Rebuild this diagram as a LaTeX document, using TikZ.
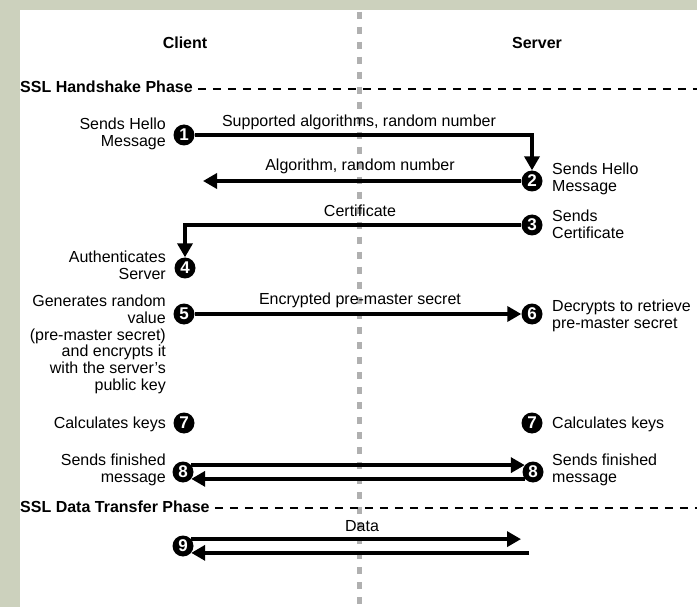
\documentclass[tikz,border=0pt]{standalone}
\usepackage{fontspec}
\setmainfont{Liberation Sans}
\usetikzlibrary{arrows.meta}
\definecolor{framecol}{RGB}{204,209,189}
\definecolor{dividercol}{RGB}{176,176,176}
\begin{document}
\begin{tikzpicture}[x=1pt,y=-1pt,
  every node/.style={inner sep=0pt, font=\fontsize{16}{16.7}\selectfont},
  num/.style={circle, fill=black, minimum size=21pt, text=white,
    font=\fontsize{17}{17}\selectfont\bfseries},
  msg/.style={line width=3.6pt, -{Triangle[length=14pt,width=15pt]}},
  phase/.style={line width=1.4pt, dash pattern=on 8pt off 7pt},
  head/.style={font=\fontsize{16}{16.7}\selectfont\bfseries},
  lefttext/.style={align=right, anchor=north east},
  righttext/.style={align=left, anchor=north west}
]
\useasboundingbox (0,0) rectangle (697,607);
\fill[framecol] (0,0) rectangle (697,607);
\fill[white] (20,10) rectangle (697,607);
% divider
\draw[dividercol, line width=5pt, dash pattern=on 7pt off 8pt] (359,12) -- (359,607);

% headings
\node[head, anchor=base] (client) at (185,49) {Client};
\node[head, anchor=base] (server) at (537,49) {Server};
\node[head, anchor=base west] (hs) at (20,93) {SSL Handshake Phase};
\coordinate (hsend) at (697,89);
\draw[phase] ([xshift=5pt]hs.east |- hsend) -- (hsend);
\node[head, anchor=base west] (dt) at (20,512) {SSL Data Transfer Phase};
\coordinate (dtend) at (697,508);
\draw[phase] ([xshift=5pt]dt.east |- dtend) -- (dtend);

% step circles
\node[num] (c1) at (184,135) {1};
\node[num] (c2) at (532,181) {2};
\node[num] (c3) at (532,225) {3};
\node[num] (c4) at (185,268) {4};
\node[num] (c5) at (184,314) {5};
\node[num] (c6) at (532,314) {6};
\node[num] (c7l) at (184,423) {7};
\node[num] (c7r) at (532,423) {7};
\node[num] (c8l) at (183,472) {8};
\node[num] (c8r) at (533,472) {8};
\node[num] (c9) at (183,546) {9};

% descriptions
\node[lefttext] (t1) at (166,118) {Sends Hello\\Message};
\node[righttext] (t2) at (552,163) {Sends Hello\\Message};
\node[righttext] (t3) at (552,210) {Sends\\Certificate};
\node[lefttext] (t4) at (166,251) {Authenticates\\Server};
\node[lefttext] (t5) at (166,295) {Generates random\\value\\(pre-master secret)\\and encrypts it\\with the server's\\public key};
\node[righttext] (t6) at (552,300) {Decrypts to retrieve\\pre-master secret};
\node[anchor=base east] (t7l) at (166,428) {Calculates keys};
\node[anchor=base west] (t7r) at (552,428) {Calculates keys};
\node[lefttext] (t8l) at (166,454) {Sends finished\\message};
\node[righttext] (t8r) at (552,454) {Sends finished\\message};

% messages
\draw[msg] (c1) -| (c2);
\node[anchor=base] (m1) at (359,127) {Supported algorithms, random number};
\coordinate (a2end) at (203,181);
\draw[msg] (c2) -- (a2end);
\node[anchor=base] (m2) at (360,171) {Algorithm, random number};
\draw[msg] (c3) -| (c4);
\node[anchor=base] (m3) at (360,217) {Certificate};
\draw[msg] (c5) -- (c6);
\node[anchor=base] (m5) at (360,304) {Encrypted pre-master secret};
\draw[msg] (c8l.40) -- (c8r.140);
\draw[msg] (c8r.-140) -- (c8l.-40);
\node[anchor=base] (m9) at (362,531) {Data};
\coordinate (d1end) at (521,538);
\coordinate (d2start) at (529,550);
\draw[msg] (c9.40) -- (d1end |- c9.40);
\draw[msg] (d2start |- c9.-40) -- (c9.-40);
\end{tikzpicture}
\end{document}
